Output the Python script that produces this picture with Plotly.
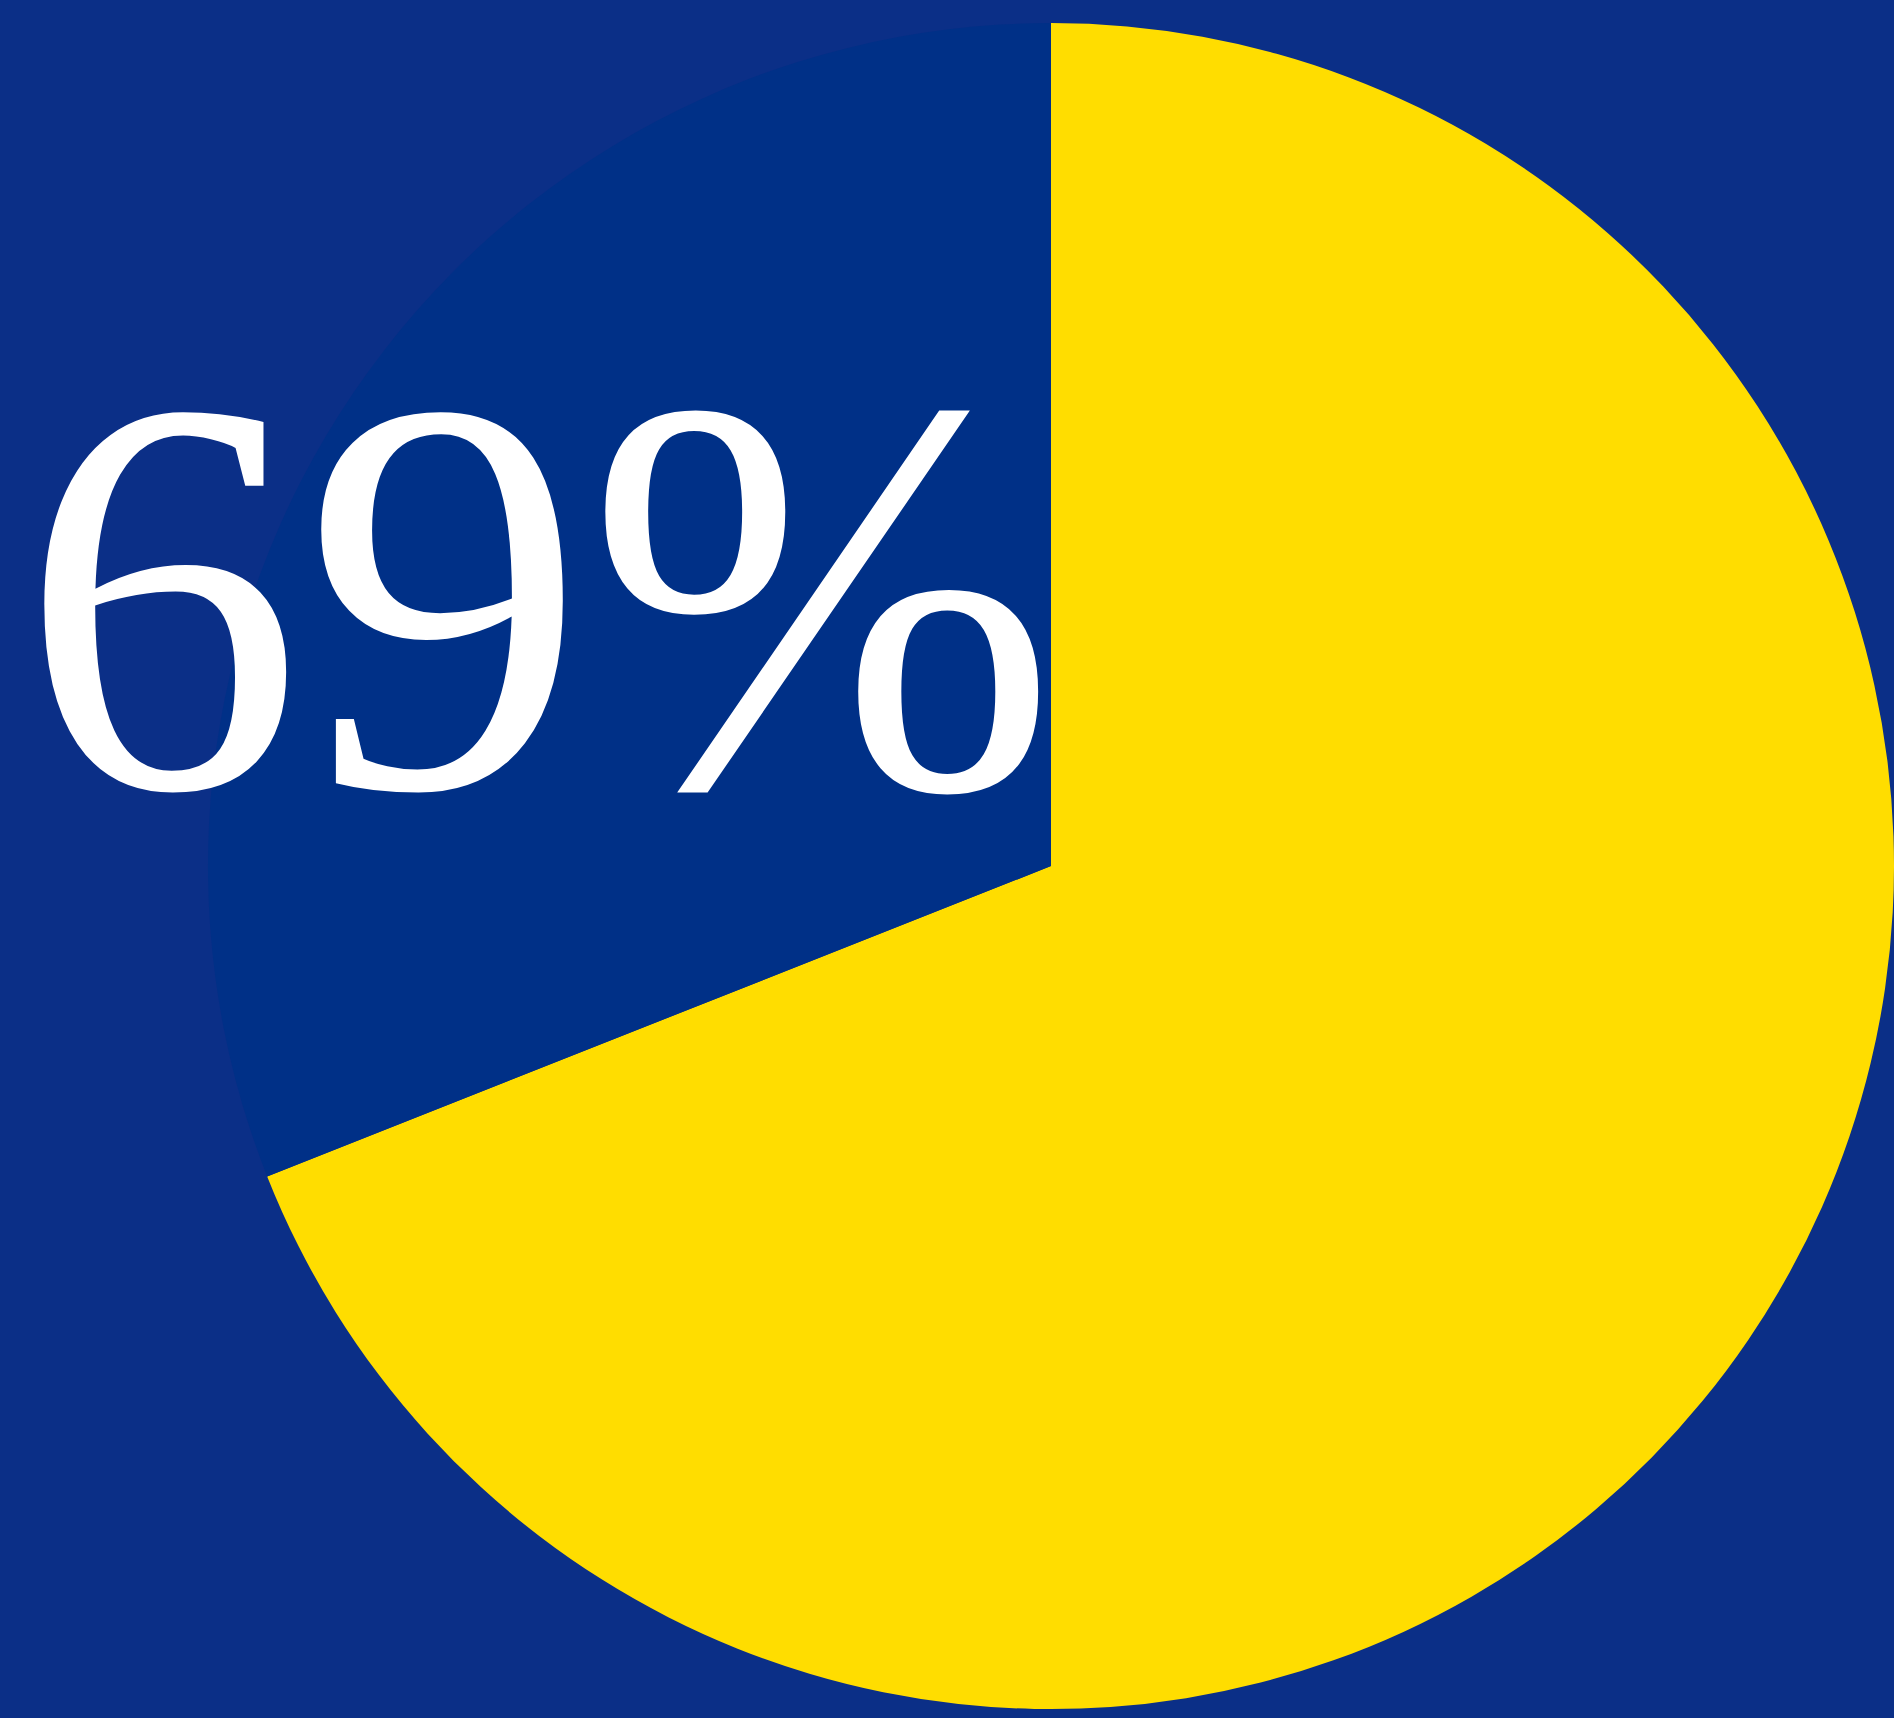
import plotly.graph_objects as go

labels = ["Yes", "No"]
values = [69, 31]
slice_colors = ["#FFDD00", "#003087"]
big_label = "69%"

W, H = 1894, 1718
bg = "#0B2F87"

fig = go.Figure(
    go.Pie(
        labels=labels,
        values=values,
        marker=dict(colors=slice_colors, line=dict(width=0)),
        sort=False,
        direction="clockwise",
        rotation=0,
        textinfo="none",
        hoverinfo="none",
        showlegend=False,
        domain=dict(x=[0.1098, 1.0], y=[0.0052, 0.9866]),
    )
)

fig.add_annotation(
    text=big_label,
    xref="paper", yref="paper",
    x=538 / W, y=1 - 596 / H,
    xanchor="center", yanchor="middle",
    showarrow=False,
    font=dict(family="Liberation Serif", size=566, color="white"),
)

fig.update_layout(
    width=W, height=H,
    margin=dict(l=0, r=0, t=0, b=0),
    paper_bgcolor=bg,
    plot_bgcolor=bg,
)

fig.write_html("out.html", config={"displayModeBar": False})

with open("out.html", "r", encoding="utf-8") as f:
    html = f.read()
html = html.replace(
    "<head>",
    "<head><style>html,body{margin:0;padding:0;overflow:hidden;background:#0B2F87;}</style>",
    1,
)
with open("out.html", "w", encoding="utf-8") as f:
    f.write(html)
